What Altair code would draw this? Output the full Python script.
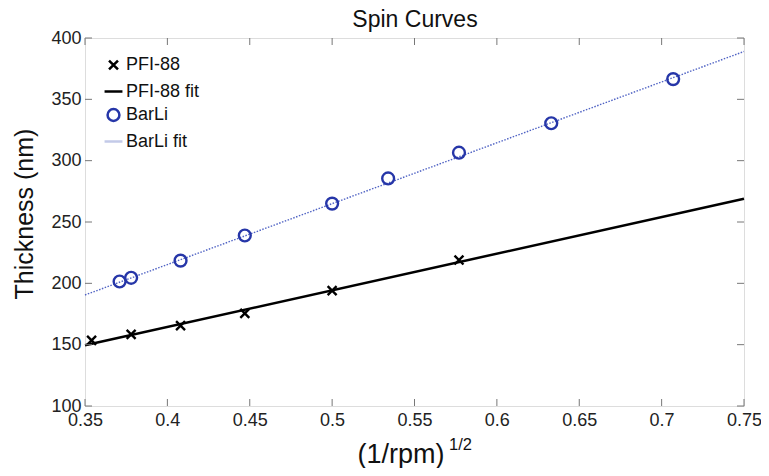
import altair as alt
import pandas as pd

# ---- data ----
pfi_x = [0.354, 0.378, 0.408, 0.447, 0.500, 0.577]
pfi_y = [153.5, 158.4, 165.5, 175.5, 194.0, 219.0]
barli_x = [0.371, 0.378, 0.408, 0.447, 0.500, 0.534, 0.577, 0.633, 0.707]
barli_y = [201.5, 204.5, 218.5, 239.0, 265.0, 285.5, 306.5, 330.5, 366.5]
fit_x = [0.35, 0.75]
pfi_fit_y = [149.5, 269.0]
barli_fit_y = [190.5, 389.0]
x_ticks = [0.35, 0.40, 0.45, 0.50, 0.55, 0.60, 0.65, 0.70, 0.75]
y_ticks = [100, 150, 200, 250, 300, 350, 400]
series = ["PFI-88", "PFI-88 fit", "BarLi", "BarLi fit"]

W, H = 659, 368
FONT = "Liberation Sans"
BLUE = "#2636a8"
LIGHT = "#c3cae8"

pts = pd.DataFrame(
    {"x": pfi_x + barli_x,
     "y": pfi_y + barli_y,
     "series": ["PFI-88"] * len(pfi_x) + ["BarLi"] * len(barli_x)}
)
pfi_fit = pd.DataFrame({"x": fit_x, "y": pfi_fit_y})
barli_fit = pd.DataFrame({"x": fit_x, "y": barli_fit_y})
xt = pd.DataFrame({"v": x_ticks})
yt = pd.DataFrame({"v": y_ticks})

xs = alt.Scale(domain=[0.35, 0.75], nice=False, zero=False)
ys = alt.Scale(domain=[100, 400], nice=False, zero=False)

xaxis = alt.Axis(values=x_ticks, format=".2~f", ticks=False, domain=False, grid=False,
                 labelFont=FONT, labelFontSize=18, labelColor="#222", labelPadding=5,
                 title=None, labelFlush=False)
yaxis = alt.Axis(values=y_ticks, ticks=False, domain=False, grid=False,
                 labelFont=FONT, labelFontSize=18, labelColor="#222", labelPadding=4,
                 title=None)

barli_line = alt.Chart(barli_fit).mark_line(
    color="#5063c4", strokeWidth=1.4, strokeDash=[1.5, 1.5]
).encode(x=alt.X("x:Q", scale=xs, axis=xaxis), y=alt.Y("y:Q", scale=ys, axis=yaxis))

pfi_line = alt.Chart(pfi_fit).mark_line(color="black", strokeWidth=2.5).encode(
    x=alt.X("x:Q", scale=xs), y=alt.Y("y:Q", scale=ys)
)

legend = alt.Legend(
    title=None, orient="none", legendX=18, legendY=18, padding=0,
    labelFont=FONT, labelFontSize=18, labelColor="#111",
    rowPadding=3, gridAlign="all", symbolStrokeWidth=2.5, symbolFillColor="transparent",
    labelOffset=2,
)
points = alt.Chart(pts).mark_point(filled=False, strokeWidth=2.4, opacity=1).encode(
    x=alt.X("x:Q", scale=xs),
    y=alt.Y("y:Q", scale=ys),
    color=alt.Color("series:N", scale=alt.Scale(domain=series, range=["black", "black", BLUE, LIGHT]),
                    legend=legend),
    shape=alt.Shape("series:N", scale=alt.Scale(domain=series,
                    range=["M-1,-1L1,1M1,-1L-1,1", "stroke", "circle", "stroke"]), legend=legend),
    size=alt.Size("series:N", scale=alt.Scale(type="ordinal", domain=series,
                                              range=[80, 320, 140, 320]), legend=legend),
)

x_bot = alt.Chart(xt).mark_rule(color="#777", strokeWidth=1).encode(
    x=alt.X("v:Q", scale=xs), y=alt.value(H), y2=alt.value(H - 7))
x_top = alt.Chart(xt).mark_rule(color="#777", strokeWidth=1).encode(
    x=alt.X("v:Q", scale=xs), y=alt.value(0), y2=alt.value(7))
y_left = alt.Chart(yt).mark_rule(color="#777", strokeWidth=1).encode(
    y=alt.Y("v:Q", scale=ys), x=alt.value(0), x2=alt.value(7))
y_right = alt.Chart(yt).mark_rule(color="#777", strokeWidth=1).encode(
    y=alt.Y("v:Q", scale=ys), x=alt.value(W), x2=alt.value(W - 7))

ttl = pd.DataFrame({"t": ["Spin Curves"]})
ylbl = pd.DataFrame({"t": ["Thickness (nm)"]})
lbl = pd.DataFrame({"t": ["(1/rpm)"]})
sup = pd.DataFrame({"t": ["1/2"]})
title = alt.Chart(ttl).mark_text(font=FONT, fontSize=23, color="#111", align="center",
                                 baseline="alphabetic").encode(
    text="t:N", x=alt.value(330), y=alt.value(-11))
ytitle = alt.Chart(ylbl).mark_text(font=FONT, fontSize=25, color="#111", align="center",
                                   baseline="alphabetic", angle=270).encode(
    text="t:N", x=alt.value(-52), y=alt.value(176))
xtitle = alt.Chart(lbl).mark_text(font=FONT, fontSize=27, color="#111", align="center",
                                  baseline="alphabetic").encode(
    text="t:N", x=alt.value(316), y=alt.value(H + 57))
xsup = alt.Chart(sup).mark_text(font=FONT, fontSize=16.5, color="#111", align="left",
                                baseline="alphabetic").encode(
    text="t:N", x=alt.value(364), y=alt.value(H + 44))

chart = alt.layer(
    barli_line, pfi_line, points, x_bot, x_top, y_left, y_right, title, ytitle, xtitle, xsup
).properties(
    width=W, height=H,
    autosize=alt.AutoSizeParams(type="none"),
    padding={"left": 77, "top": 30, "right": 17, "bottom": 62},
).configure_view(stroke="#666", strokeWidth=1).configure(background="white")

chart.save("out.html", embed_options={"renderer": "svg", "actions": False})
